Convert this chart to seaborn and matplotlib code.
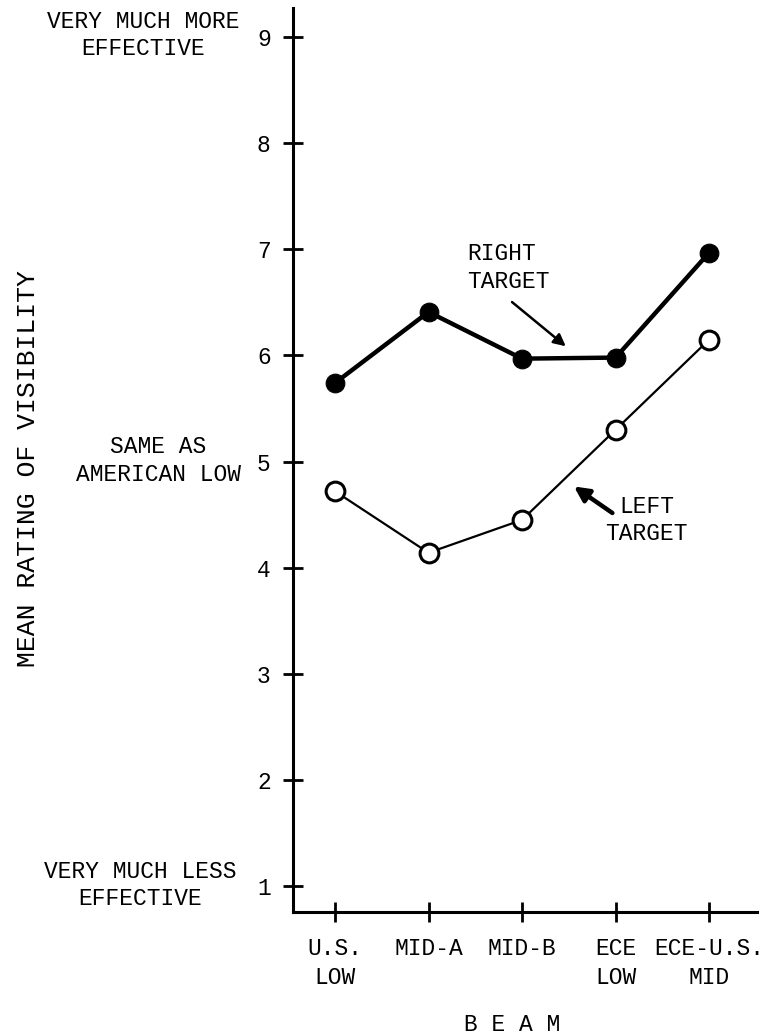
import pandas as pd
import seaborn as sns
import matplotlib.pyplot as plt

# values
beams = ['U.S.\nLOW', 'MID-A', 'MID-B', 'ECE\nLOW', 'ECE-U.S.\nMID']
right_target = [5.74, 6.41, 5.97, 5.98, 6.97]
left_target = [4.72, 4.14, 4.45, 5.30, 6.15]
y_ticks = [1, 2, 3, 4, 5, 6, 7, 8, 9]

right_df = pd.DataFrame({'beam': beams, 'rating': right_target})
left_df = pd.DataFrame({'beam': beams, 'rating': left_target})

sns.set_style('white')
plt.rcParams['font.family'] = ['Liberation Mono', 'DejaVu Sans Mono']
plt.rcParams['text.color'] = 'black'
plt.rcParams['axes.labelcolor'] = 'black'
plt.rcParams['xtick.color'] = 'black'
plt.rcParams['ytick.color'] = 'black'

fig = plt.figure(figsize=(7.75, 10.35), dpi=100)
ax = fig.add_axes([0.378, 0.119, 0.599, 0.873])

sns.lineplot(data=right_df, x='beam', y='rating', sort=False, color='black',
             linewidth=3.2, marker='o', markersize=13.5, markerfacecolor='black',
             markeredgecolor='black', ax=ax)
sns.lineplot(data=left_df, x='beam', y='rating', sort=False, color='black',
             linewidth=1.6, marker='o', markersize=13.5, markerfacecolor='white',
             markeredgecolor='black', markeredgewidth=2.2, ax=ax)

ax.set_xlim(-0.449, 4.513)
ax.set_ylim(0.755, 9.273)
ax.set_yticks(y_ticks)
ax.set_yticklabels([str(v) for v in y_ticks])

for s in ['top', 'right']:
    ax.spines[s].set_visible(False)
for s in ['left', 'bottom']:
    ax.spines[s].set_linewidth(2.2)
    ax.spines[s].set_color('black')

ax.tick_params(axis='both', direction='inout', length=14, width=2, color='black',
               labelsize=16.5, bottom=True, left=True)
ax.tick_params(axis='x', pad=11)
ax.tick_params(axis='y', pad=9)
for lbl in ax.get_xticklabels():
    lbl.set_linespacing(1.35)

ax.set_xlabel('B E A M', fontsize=16.5)
ax.xaxis.set_label_coords(0.472, -0.112)
ax.set_ylabel('MEAN RATING OF VISIBILITY', fontsize=19)
ax.yaxis.set_label_coords(-0.545, 0.491)

# scale descriptions left of the axis
trans = ax.get_yaxis_transform()
ax.text(-0.323, 9.02, 'VERY MUCH MORE\nEFFECTIVE', transform=trans, ha='center',
        va='center', fontsize=16.5, linespacing=1.25)
ax.text(-0.29, 5.01, 'SAME AS\nAMERICAN LOW', transform=trans, ha='center',
        va='center', fontsize=16.5, linespacing=1.25)
ax.text(-0.33, 1.01, 'VERY MUCH LESS\nEFFECTIVE', transform=trans, ha='center',
        va='center', fontsize=16.5, linespacing=1.25)

# series labels with arrows
ax.text(1.41, 6.83, 'RIGHT\nTARGET', ha='left', va='center', fontsize=16.5, linespacing=1.25)
ax.annotate('', xy=(2.49, 6.07), xytext=(1.87, 6.52),
            arrowprops=dict(arrowstyle='-|>', color='black', lw=1.8, mutation_scale=18))
ax.text(3.33, 4.45, 'LEFT\nTARGET', ha='center', va='center', fontsize=16.5, linespacing=1.25)
ax.annotate('', xy=(2.53, 4.78), xytext=(2.99, 4.50),
            arrowprops=dict(arrowstyle='-|>', color='black', lw=3.2, mutation_scale=22))

fig.savefig('out.png', dpi=100)
